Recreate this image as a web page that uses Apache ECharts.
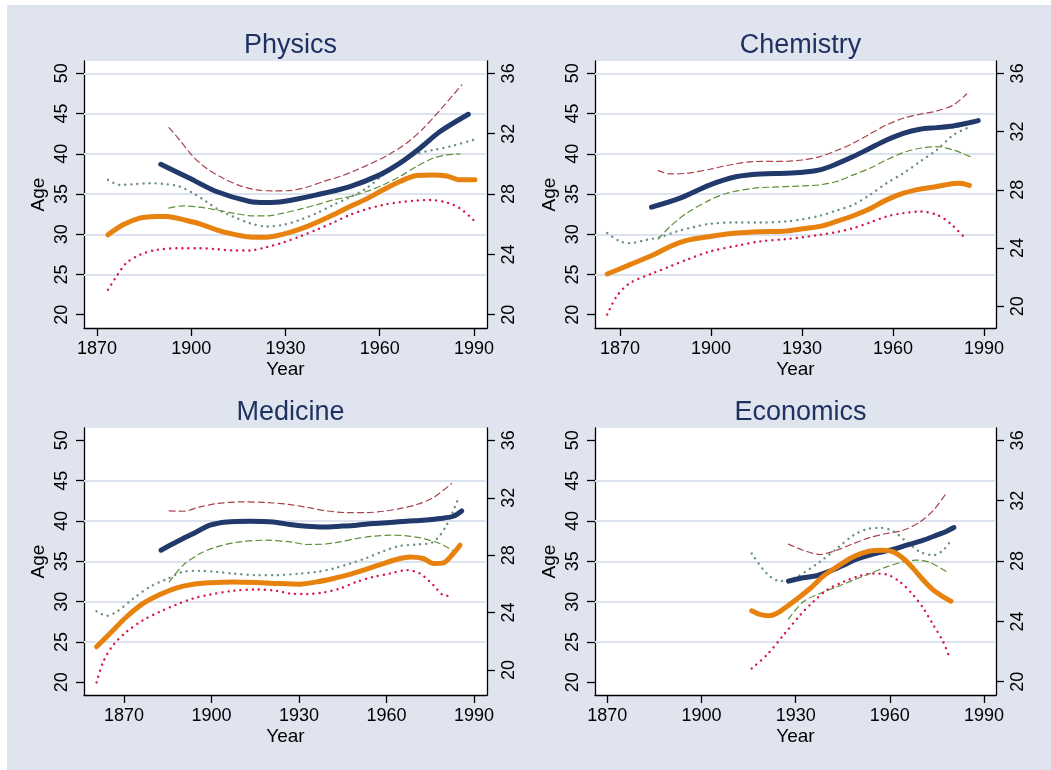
<!DOCTYPE html>
<html>
<head>
<meta charset="utf-8">
<script src="https://cdn.jsdelivr.net/npm/echarts@6/dist/echarts.min.js"></script>
<style>
  html, body { margin: 0; padding: 0; background: #fff; }
  #main { width: 1051px; height: 770px; }
</style>
</head>
<body>
<div id="main"></div>
<script>
// 坐标轴刻度
const yearTicks = [1870, 1900, 1930, 1960, 1990];
const ageTicks = [20, 25, 30, 35, 40, 45, 50];
const rightTicks = [20, 24, 28, 32, 36];
const gridLinesTop = [25, 30, 35, 40, 45, 50];
const gridLinesBottom = [25, 30, 35, 40, 45];

// Physics: [year, value]; navy + dashed bands on left axis, orange + dotted bands on right axis
const physicsNavy = [[1890.3,38.7],[1899.5,36.96],[1908.0,35.31],[1918.6,34.07],[1923.9,33.94],[1929.3,34.07],[1939.9,34.9],[1950.5,35.93],[1960.0,37.38],[1966.4,38.83],[1972.8,40.69],[1979.2,42.76],[1988.2,44.91]];
const physicsNavyHi = [[1892.9,43.25],[1896.3,41.72],[1900.6,39.65],[1904.8,38.2],[1910.1,36.96],[1915.4,36.05],[1920.8,35.51],[1926.1,35.39],[1931.4,35.43],[1936.7,35.84],[1942.0,36.55],[1947.3,37.17],[1952.6,37.99],[1957.9,38.91],[1963.2,39.98],[1968.5,41.31],[1973.9,43.17],[1979.2,45.44],[1986.1,48.55]];
const physicsNavyLo = [[1892.9,33.24],[1897.4,33.53],[1902.7,33.36],[1908.0,33.03],[1913.3,32.62],[1919.7,32.29],[1923.9,32.29],[1929.3,32.62],[1934.6,33.12],[1939.9,33.66],[1945.2,34.27],[1950.5,34.69],[1955.8,35.31],[1961.1,36.14],[1966.4,37.17],[1971.7,38.41],[1977.0,39.45],[1981.3,39.86],[1985.5,39.98]];
const physicsOrange = [[1873.5,25.3],[1878.3,25.96],[1883.6,26.4],[1888.9,26.51],[1892.1,26.51],[1898.5,26.25],[1902.7,26.03],[1908.0,25.63],[1913.3,25.34],[1919.7,25.14],[1923.9,25.14],[1929.3,25.34],[1934.6,25.67],[1939.9,26.11],[1945.2,26.62],[1950.5,27.17],[1955.8,27.68],[1961.1,28.28],[1966.4,28.83],[1971.7,29.23],[1977.0,29.27],[1981.3,29.2],[1985.5,28.94],[1990.3,28.94]];
const physicsOrangeHi = [[1873.5,28.94],[1877.2,28.61],[1881.5,28.65],[1886.8,28.72],[1892.1,28.65],[1896.3,28.5],[1900.6,28.06],[1904.8,27.5],[1909.1,26.91],[1913.3,26.51],[1918.6,26.07],[1923.9,25.85],[1929.3,25.96],[1934.6,26.29],[1939.9,26.73],[1945.2,27.28],[1950.5,27.79],[1955.8,28.39],[1961.1,29.27],[1966.4,30.09],[1971.7,30.66],[1977.0,30.92],[1982.3,31.15],[1989.8,31.59]];
const physicsOrangeLo = [[1873.5,21.66],[1876.2,22.54],[1879.3,23.42],[1883.6,23.97],[1888.9,24.3],[1897.4,24.41],[1902.7,24.41],[1908.0,24.35],[1913.3,24.26],[1918.6,24.26],[1923.9,24.48],[1929.3,24.79],[1934.6,25.19],[1939.9,25.63],[1945.2,26.11],[1950.5,26.62],[1955.8,27.0],[1961.1,27.28],[1966.4,27.46],[1971.7,27.57],[1976.0,27.61],[1981.3,27.44],[1985.5,27.06],[1989.8,26.29]];

// Chemistry
const chemistryNavy = [[1880.4,33.36],[1889.8,34.48],[1899.7,36.14],[1908.5,37.17],[1916.2,37.5],[1924.9,37.58],[1930.4,37.71],[1935.9,38.0],[1941.4,38.74],[1946.9,39.65],[1952.4,40.69],[1957.9,41.72],[1963.4,42.55],[1968.9,43.05],[1974.4,43.25],[1979.9,43.46],[1984.3,43.79],[1988.1,44.12]];
const chemistryNavyHi = [[1882.6,37.91],[1886.5,37.5],[1892.0,37.58],[1899.7,38.08],[1905.2,38.54],[1914.0,39.03],[1924.9,39.07],[1930.4,39.24],[1935.9,39.65],[1941.4,40.4],[1946.9,41.31],[1952.4,42.47],[1957.9,43.59],[1963.4,44.41],[1968.9,44.91],[1974.4,45.32],[1979.9,46.07],[1984.3,47.43]];
const chemistryNavyLo = [[1882.6,29.39],[1886.5,30.96],[1892.0,32.62],[1899.7,34.27],[1905.2,35.1],[1914.0,35.72],[1919.5,35.85],[1930.4,36.01],[1935.9,36.14],[1941.4,36.55],[1946.9,37.38],[1952.4,38.2],[1957.9,39.24],[1963.4,40.15],[1968.9,40.69],[1974.4,40.89],[1979.9,40.48],[1985.4,39.65]];
const chemistryOrange = [[1865.8,22.22],[1873.3,22.86],[1881.0,23.54],[1886.5,24.11],[1892.0,24.53],[1899.7,24.8],[1908.5,25.03],[1916.2,25.12],[1924.9,25.17],[1930.4,25.33],[1935.9,25.49],[1941.4,25.83],[1946.9,26.22],[1952.4,26.7],[1957.9,27.31],[1963.4,27.77],[1968.9,28.05],[1974.4,28.23],[1979.9,28.43],[1982.1,28.46],[1985.2,28.3]];
const chemistryOrangeHi = [[1865.8,25.03],[1870.0,24.46],[1873.3,24.34],[1878.8,24.57],[1883.2,24.75],[1888.7,25.14],[1894.2,25.44],[1899.7,25.67],[1908.5,25.76],[1916.2,25.76],[1924.9,25.83],[1930.4,25.99],[1935.9,26.22],[1941.4,26.58],[1946.9,26.97],[1952.4,27.66],[1957.9,28.46],[1963.4,29.14],[1968.9,29.94],[1974.4,30.74],[1979.9,31.77],[1984.3,32.23]];
const chemistryOrangeLo = [[1865.8,19.43],[1868.9,20.69],[1873.3,21.6],[1881.0,22.29],[1886.5,22.74],[1892.0,23.2],[1899.7,23.77],[1908.5,24.16],[1916.2,24.46],[1924.9,24.62],[1930.4,24.75],[1935.9,24.91],[1941.4,25.1],[1946.9,25.37],[1952.4,25.76],[1957.9,26.17],[1963.4,26.4],[1968.9,26.51],[1974.4,26.29],[1978.8,25.71],[1984.3,24.57]];

// Medicine
const medicineNavy = [[1882.7,36.38],[1888.1,37.42],[1893.8,38.45],[1899.5,39.48],[1905.2,39.89],[1913.2,39.98],[1921.2,39.89],[1926.9,39.56],[1932.6,39.36],[1938.3,39.27],[1944.1,39.36],[1949.8,39.48],[1955.5,39.69],[1961.2,39.81],[1966.9,39.98],[1972.6,40.1],[1978.3,40.31],[1982.9,40.59],[1985.8,41.25]];
const medicineNavyHi = [[1885.5,41.25],[1890.3,41.21],[1896.1,41.75],[1901.8,42.16],[1909.8,42.37],[1918.9,42.29],[1926.9,42.04],[1933.8,41.63],[1939.5,41.25],[1946.3,41.05],[1953.2,41.05],[1958.9,41.21],[1964.6,41.54],[1970.3,42.04],[1976.1,42.91],[1982.3,44.64]];
const medicineNavyLo = [[1885.5,32.46],[1890.3,34.53],[1896.1,35.97],[1901.8,36.8],[1909.8,37.42],[1918.9,37.62],[1926.9,37.42],[1932.6,37.09],[1938.3,37.13],[1944.1,37.42],[1949.8,37.83],[1955.5,38.12],[1961.2,38.24],[1966.9,38.16],[1972.6,37.83],[1978.3,37.21],[1982.9,36.3]];
const medicineOrange = [[1860.6,21.62],[1865.2,22.55],[1870.9,23.71],[1876.6,24.64],[1882.3,25.26],[1888.1,25.73],[1893.8,25.98],[1899.5,26.08],[1907.5,26.14],[1915.5,26.1],[1922.3,26.03],[1930.3,25.98],[1936.1,26.14],[1941.8,26.38],[1947.5,26.66],[1953.2,27.03],[1958.9,27.42],[1964.6,27.77],[1968.1,27.88],[1972.6,27.77],[1976.1,27.42],[1979.5,27.47],[1982.9,28.12],[1985.2,28.7]];
const medicineOrangeHi = [[1860.6,24.1],[1864.1,23.78],[1867.5,24.06],[1873.2,24.99],[1878.9,25.8],[1884.6,26.33],[1890.3,26.84],[1896.1,26.91],[1901.8,26.84],[1907.5,26.72],[1915.5,26.61],[1922.3,26.61],[1930.3,26.72],[1936.1,26.84],[1941.8,27.07],[1947.5,27.42],[1953.2,27.81],[1958.9,28.28],[1964.6,28.65],[1970.3,28.74],[1976.1,28.93],[1980.6,30.09],[1984.6,31.94]];
const medicineOrangeLo = [[1860.6,19.14],[1862.9,20.58],[1866.3,21.74],[1870.9,22.67],[1876.6,23.48],[1882.3,24.06],[1888.1,24.57],[1893.8,24.99],[1899.5,25.26],[1907.5,25.52],[1915.5,25.61],[1922.3,25.52],[1926.9,25.33],[1932.6,25.29],[1938.3,25.4],[1944.1,25.68],[1949.8,26.15],[1955.5,26.49],[1961.2,26.72],[1966.9,26.96],[1971.5,26.72],[1976.1,25.91],[1979.5,25.22],[1982.9,25.15]];

// Economics
const economicsNavy = [[1927.7,32.55],[1932.4,32.96],[1936.7,33.21],[1940.9,33.78],[1945.2,34.53],[1949.4,35.27],[1954.7,35.89],[1960.0,36.38],[1965.4,37.0],[1970.7,37.62],[1974.9,38.24],[1978.1,38.74],[1980.4,39.19]];
const economicsNavyHi = [[1927.7,37.13],[1932.4,36.38],[1937.7,35.85],[1943.1,36.38],[1948.4,37.21],[1953.7,37.95],[1959.0,38.45],[1964.3,38.86],[1969.6,39.89],[1973.9,41.34],[1977.9,43.4]];
const economicsNavyLo = [[1927.7,27.84],[1932.4,29.99],[1937.7,31.02],[1943.1,31.84],[1948.4,32.67],[1953.7,33.5],[1959.0,34.32],[1964.3,34.94],[1968.5,35.15],[1972.8,34.86],[1978.1,33.7]];
const economicsOrange = [[1916.0,24.7],[1918.6,24.46],[1921.3,24.37],[1923.9,24.52],[1927.1,24.97],[1930.3,25.47],[1934.6,26.18],[1938.8,27.0],[1943.1,27.61],[1948.4,28.28],[1953.7,28.67],[1957.9,28.72],[1961.1,28.61],[1964.3,28.17],[1967.5,27.5],[1970.7,26.73],[1973.9,26.07],[1977.0,25.63],[1979.5,25.34]];
const economicsOrangeHi = [[1916.0,28.5],[1920.8,27.17],[1925.0,26.67],[1930.3,26.95],[1937.7,27.95],[1943.1,28.83],[1948.4,29.71],[1952.6,30.11],[1956.9,30.2],[1961.1,29.98],[1965.4,29.27],[1969.6,28.61],[1973.9,28.39],[1977.0,28.72],[1979.7,29.45]];
const economicsOrangeLo = [[1916.0,20.88],[1920.8,21.77],[1926.1,23.09],[1931.4,24.41],[1935.6,25.3],[1939.9,26.07],[1945.2,26.62],[1950.5,27.02],[1954.7,27.17],[1959.0,27.11],[1963.2,26.62],[1967.5,25.74],[1970.7,24.86],[1973.9,23.75],[1977.0,22.65],[1979.2,21.5]];

const FONT = 'Liberation Sans, Arial, Helvetica, sans-serif';
const NAVY = '#21396b';
const ORANGE = '#e8820e';
const MAROON = '#a8434b';
const GREEN = '#5f8f36';
const TEAL = '#6a9184';
const RED = '#d7184b';

// 四个面板的布局
const panels = [
  { title: 'Physics', grid: { left: 84, top: 61, width: 403, height: 267 }, xRange: [1865.86, 1994.14], yRange: [18.35, 51.53], rRange: [19.12, 36.82], gridLines: gridLinesTop,
    lines: [physicsNavy, physicsNavyHi, physicsNavyLo, physicsOrange, physicsOrangeHi, physicsOrangeLo] },
  { title: 'Chemistry', grid: { left: 595, top: 61, width: 401, height: 267 }, xRange: [1861.76, 1993.96], yRange: [18.35, 51.53], rRange: [18.51, 36.85], gridLines: gridLinesTop,
    lines: [chemistryNavy, chemistryNavyHi, chemistryNavyLo, chemistryOrange, chemistryOrangeHi, chemistryOrangeLo] },
  { title: 'Medicine', grid: { left: 84, top: 428, width: 403, height: 267 }, xRange: [1856.29, 1994.46], yRange: [18.43, 51.53], rRange: [18.26, 36.86], gridLines: gridLinesBottom,
    lines: [medicineNavy, medicineNavyHi, medicineNavyLo, medicineOrange, medicineOrangeHi, medicineOrangeLo] },
  { title: 'Economics', grid: { left: 595, top: 428, width: 401, height: 267 }, xRange: [1866.07, 1993.82], yRange: [18.43, 51.53], rRange: [19.12, 36.82], gridLines: gridLinesBottom,
    lines: [economicsNavy, economicsNavyHi, economicsNavyLo, economicsOrange, economicsOrangeHi, economicsOrangeLo] }
];

const axisLine = { show: true, lineStyle: { color: '#000', width: 1.3 } };
const axisTick = (vals) => ({ show: true, inside: false, length: 8, customValues: vals, lineStyle: { color: '#000', width: 1.3 } });
const labelStyle = { color: '#000', fontSize: 18, fontFamily: FONT, formatter: v => String(v) };

const grids = [], xAxes = [], yAxes = [], titles = [], series = [];

panels.forEach((p, i) => {
  grids.push(Object.assign({ show: true, backgroundColor: '#fff', borderWidth: 0 }, p.grid));
  titles.push({
    text: p.title, left: p.grid.left + p.grid.width / 2, top: p.grid.top - 34, textAlign: 'center',
    textStyle: { color: '#1e3160', fontSize: 27, fontWeight: 'normal', fontFamily: FONT }
  });
  xAxes.push({
    type: 'value', gridIndex: i, min: p.xRange[0], max: p.xRange[1],
    name: 'Year', nameLocation: 'middle', nameGap: 32,
    nameTextStyle: { color: '#000', fontSize: 19, fontFamily: FONT },
    axisLine: axisLine, axisTick: axisTick(yearTicks),
    axisLabel: Object.assign({ customValues: yearTicks, margin: 12 }, labelStyle),
    splitLine: { show: false }
  });
  yAxes.push({
    type: 'value', gridIndex: i, position: 'left', min: p.yRange[0], max: p.yRange[1],
    name: 'Age', nameLocation: 'middle', nameGap: 36,
    nameTextStyle: { color: '#000', fontSize: 19, fontFamily: FONT },
    axisLine: axisLine, axisTick: axisTick(ageTicks),
    axisLabel: Object.assign({ customValues: ageTicks, rotate: 90, margin: 13 }, labelStyle),
    splitLine: { show: false }
  });
  yAxes.push({
    type: 'value', gridIndex: i, position: 'right', min: p.rRange[0], max: p.rRange[1],
    axisLine: axisLine, axisTick: axisTick(rightTicks),
    axisLabel: Object.assign({ customValues: rightTicks, rotate: 90, margin: 13 }, labelStyle),
    splitLine: { show: false }
  });

  const xi = i, yl = i * 2, yr = i * 2 + 1;
  const styles = [
    { axis: yl, color: NAVY, width: 5, type: 'solid', z: 4 },
    { axis: yl, color: MAROON, width: 1.2, type: [6, 4], z: 3 },
    { axis: yl, color: GREEN, width: 1.2, type: [6, 4], z: 3 },
    { axis: yr, color: ORANGE, width: 5, type: 'solid', z: 4 },
    { axis: yr, color: TEAL, width: 2.4, type: [0.1, 6], z: 3 },
    { axis: yr, color: RED, width: 2.4, type: [0.1, 6], z: 3 }
  ];
  p.lines.forEach((d, k) => {
    const s = styles[k];
    const item = {
      type: 'line', xAxisIndex: xi, yAxisIndex: s.axis, data: d,
      showSymbol: false, smooth: 0.3, silent: true, z: s.z,
      lineStyle: { color: s.color, width: s.width, type: s.type, cap: 'round', join: 'round' }
    };
    if (k === 0) {
      // 网格线挂在主线上，层级放在最底
      item.markLine = {
        silent: true, symbol: 'none', z: 1, animation: false,
        label: { show: false },
        lineStyle: { color: '#dde3ee', width: 2, type: 'solid' },
        data: p.gridLines.map(v => ({ yAxis: v }))
      };
    }
    series.push(item);
  });
});

const chart = echarts.init(document.getElementById('main'));
chart.setOption({
  animation: false,
  backgroundColor: '#dfe4ef',
  graphic: [
    { type: 'rect', shape: { x: 0, y: 0, width: 1051, height: 5 }, style: { fill: '#fff' } },
    { type: 'rect', shape: { x: 0, y: 0, width: 7, height: 770 }, style: { fill: '#fff' } }
  ],
  title: titles,
  grid: grids,
  xAxis: xAxes,
  yAxis: yAxes,
  series: series
});
</script>
</body>
</html>
